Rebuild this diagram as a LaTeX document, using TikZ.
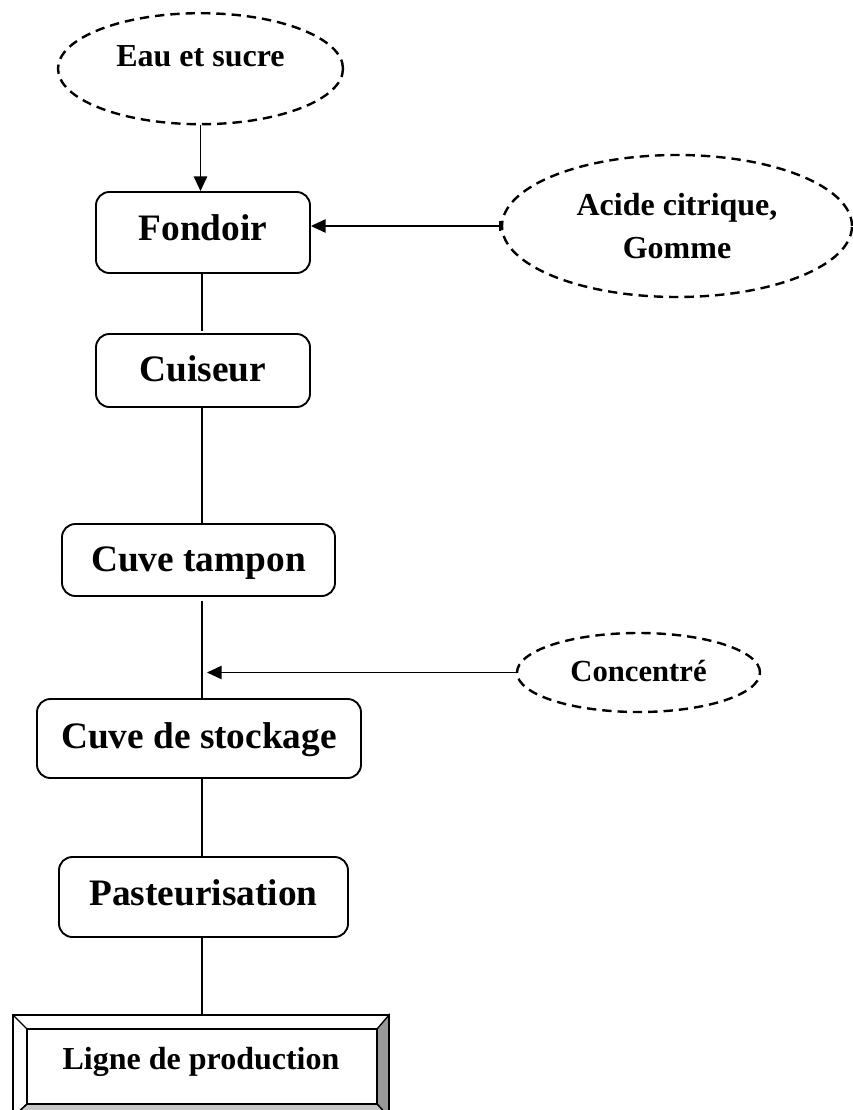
\documentclass[tikz,border=0pt]{standalone}
\usepackage{fontspec}
\setmainfont{Liberation Serif}
\usetikzlibrary{shapes.geometric,arrows.meta,calc}

\begin{document}
\begin{tikzpicture}[x=0.75pt,y=-0.75pt,
  stage/.style={draw,line width=1.4pt,rounded corners=10pt,inner sep=0pt,
    text height=20pt,font=\bfseries\fontsize{28}{32}\selectfont},
  input/.style={ellipse,draw,line width=1.8pt,dash pattern=on 7pt off 4.5pt,
    inner sep=0pt,align=center,font=\bfseries\fontsize{24}{32}\selectfont},
  link/.style={line width=1.2pt},
  feed/.style={link,-{Triangle[length=11pt,width=10pt]}},
]
\useasboundingbox (0,0) rectangle (853,1110);

% raw materials
\node[input,minimum width=213.75pt,minimum height=83.25pt,
      text height=20pt,text depth=23pt] (eau) at (200.5,68.7) {Eau et sucre};
\node[input,minimum width=262.5pt,minimum height=106.5pt] (acide) at (677,226)
      {Acide citrique,\\Gomme};
\node[input,minimum width=182.25pt,minimum height=59.25pt,
      text height=20pt,text depth=6.2pt,
      font=\bfseries\fontsize{23}{28}\selectfont] (concentre) at (638.5,672.5) {Concentré};

% process stages
\node[stage,minimum width=160.5pt,minimum height=60.75pt,text depth=8.75pt]
      (fondoir) at (203,232.5) {Fondoir};
\node[stage,minimum width=160.5pt,minimum height=54.75pt,text depth=3.2pt]
      (cuiseur) at (203,370.5) {Cuiseur};
\node[stage,minimum width=204.75pt,minimum height=54pt,text depth=2.4pt]
      (tampon) at (198.5,560) {Cuve tampon};
\node[stage,minimum width=243pt,minimum height=59.25pt,text depth=5.3pt]
      (stockage) at (199,738.5) {Cuve de stockage};
\node[stage,minimum width=216.75pt,minimum height=60pt,text depth=8pt]
      (pasteur) at (203.5,897) {Pasteurisation};

% bevelled end box
\node[minimum width=282pt,minimum height=76.5pt,inner sep=0pt,outer sep=0pt,
      text height=20pt,text depth=15.5pt,font=\bfseries\fontsize{24}{28}\selectfont]
      (ligne) at (201,1066) {Ligne de production};
\coordinate (iNW) at ($(ligne.north west)+(10.5pt,-10.5pt)$);
\coordinate (iNE) at ($(ligne.north east)+(-9pt,-10.5pt)$);
\coordinate (iSE) at ($(ligne.south east)+(-9pt,9.75pt)$);
\coordinate (iSW) at ($(ligne.south west)+(10.5pt,9.75pt)$);
\filldraw[fill=black!40,line width=1pt] (ligne.north east) -- (ligne.south east) -- (iSE) -- (iNE) -- cycle;
\filldraw[fill=black!22,line width=1pt] (ligne.south west) -- (ligne.south east) -- (iSE) -- (iSW) -- cycle;
\draw[line width=1pt] (ligne.north west) -- (iNW) (ligne.south west) -- (iSW);
\draw[line width=1.2pt] (iNW) rectangle (iSE);
\draw[line width=1.6pt] (ligne.north west) rectangle (ligne.south east);

% connectors
\coordinate (spine) at (202,0);
\coordinate (inlet) at (207,672.5);
\draw[feed] (eau.south) -- (eau.south |- fondoir.north);
\draw[link,{Bar[width=7pt]}-{Triangle[length=11pt,width=10pt]}]
      (acide.west) -- (acide.west -| fondoir.east);
\draw[link,shorten >=1.5pt] (spine |- fondoir.south) -- (spine |- cuiseur.north);
\draw[link] (spine |- cuiseur.south) -- (spine |- tampon.north);
\draw[link,shorten <=3pt] (spine |- tampon.south) -- (spine |- stockage.north);
\draw[link] (spine |- stockage.south) -- (spine |- pasteur.north);
\draw[link] (spine |- pasteur.south) -- (spine |- ligne.north);
\draw[feed] (concentre.west) -- (inlet);
\end{tikzpicture}
\end{document}
